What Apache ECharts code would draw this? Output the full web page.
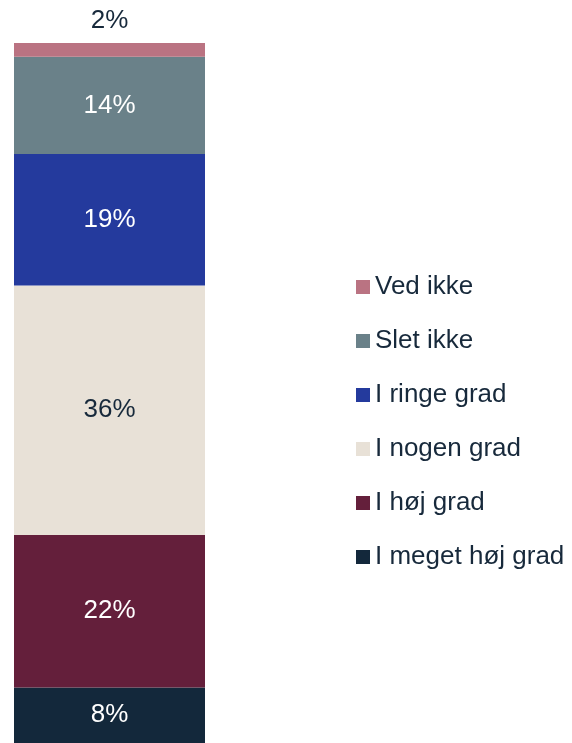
<!DOCTYPE html>
<html>
<head>
    <meta charset="utf-8">
    <title>ECharts</title>
    <script src="https://cdn.jsdelivr.net/npm/echarts@6/dist/echarts.min.js"></script>
    <style>
        html, body { margin: 0; padding: 0; background: #fff; }
    </style>
</head>
<body>
    <div id="main" style="width: 572px;height:743px;"></div>
    <script type="text/javascript">
        // stacked bottom -> top
        var categories = ['Alle'];
        var seriesNames = ['I meget høj grad', 'I høj grad', 'I nogen grad', 'I ringe grad', 'Slet ikke', 'Ved ikke'];
        var seriesValues = [8, 22, 36, 19, 14, 2];
        var colors = ['#13283b', '#641f3b', '#e8e1d7', '#243a9d', '#6a8189', '#ba7382'];
        var labelColors = ['#ffffff', '#ffffff', '#17293b', '#ffffff', '#ffffff', '#17293b'];

        var total = 0;
        for (var i = 0; i < seriesValues.length; i++) total += seriesValues[i];

        var font = '"Liberation Sans", Arial, sans-serif';
        var series = [];
        for (var i = 0; i < seriesNames.length; i++) {
            var last = (i === seriesNames.length - 1);
            series.push({
                name: seriesNames[i],
                type: 'bar',
                stack: 'total',
                barWidth: '100%',
                data: [seriesValues[i]],
                itemStyle: { color: colors[i] },
                label: {
                    show: true,
                    position: last ? 'top' : 'inside',
                    distance: 9,
                    formatter: '{c}%',
                    color: labelColors[i],
                    fontFamily: font,
                    fontSize: 26
                }
            });
        }

        var myChart = echarts.init(document.getElementById('main'));
        var option = {
            animation: false,
            grid: { left: 14, top: 43, width: 191, height: 707 },
            xAxis: { type: 'category', data: categories, show: false },
            yAxis: { type: 'value', min: 0, max: total, show: false },
            legend: {
                orient: 'vertical',
                left: 356,
                top: 274,
                padding: 0,
                itemWidth: 14,
                itemHeight: 14,
                itemGap: 28,
                icon: 'rect',
                data: seriesNames.slice().reverse(),
                textStyle: { color: '#17293b', fontFamily: font, fontSize: 26 },
                selectedMode: false
            },
            series: series
        };
        myChart.setOption(option);
    </script>
</body>
</html>
